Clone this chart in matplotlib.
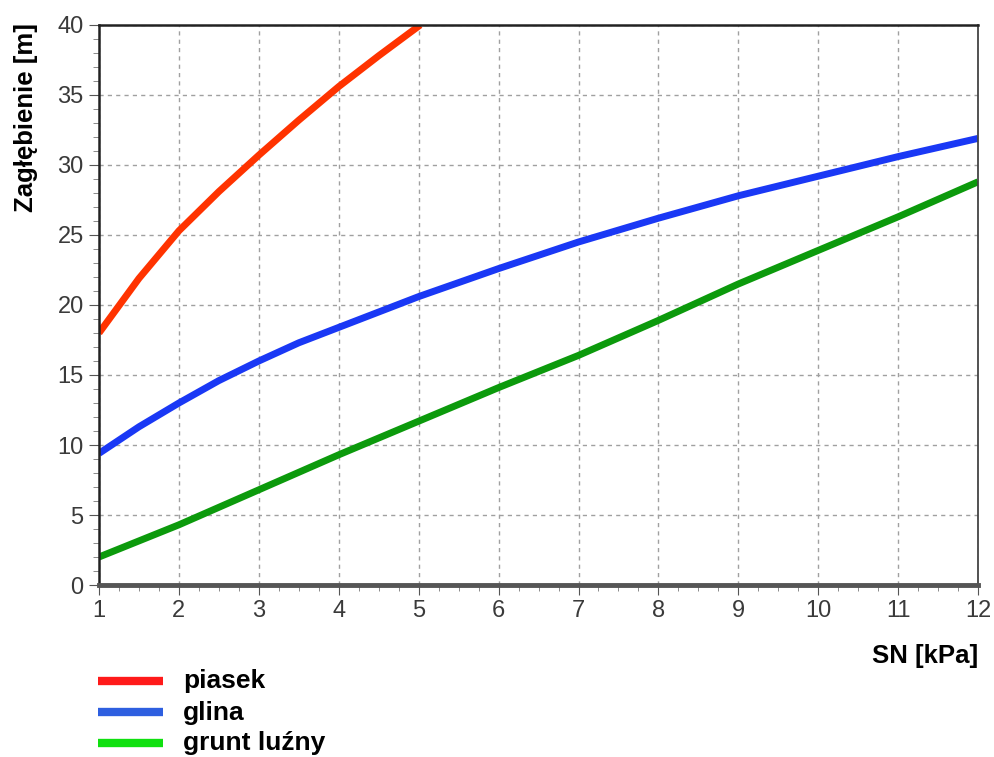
import matplotlib
matplotlib.use("Agg")
import matplotlib.pyplot as plt
from matplotlib.ticker import MultipleLocator
from matplotlib.lines import Line2D

plt.rcParams['font.family'] = ['Liberation Sans', 'DejaVu Sans']

x_piasek = [1, 1.5, 2, 2.5, 3, 3.5, 4, 4.5, 5.02]
y_piasek = [18, 21.9, 25.3, 28.1, 30.7, 33.2, 35.6, 37.8, 40]
x_glina = [1, 1.5, 2, 2.5, 3, 3.5, 4, 5, 6, 7, 8, 9, 10, 11, 12]
y_glina = [9.4, 11.3, 13.0, 14.6, 16.0, 17.3, 18.4, 20.6, 22.6, 24.5, 26.2, 27.8, 29.2, 30.6, 31.9]
x_grunt = [1, 2, 3, 4, 5, 6, 7, 8, 9, 10, 11, 12]
y_grunt = [2.0, 4.3, 6.8, 9.3, 11.7, 14.1, 16.4, 18.9, 21.5, 23.9, 26.3, 28.8]
labels = ["piasek", "glina", "grunt luźny"]
line_colors = ["#ff3300", "#1a38f5", "#0c9a0c"]
legend_colors = ["#ff1a1a", "#2e5fe0", "#10e010"]

fig = plt.figure(figsize=(9.95, 7.57), dpi=100)
ax = fig.add_axes([0.0995, 0.2272, 0.8835, 0.7398])

for xs, ys, c in zip([x_piasek, x_glina, x_grunt], [y_piasek, y_glina, y_grunt], line_colors):
    ax.plot(xs, ys, color=c, lw=5, solid_capstyle="butt", solid_joinstyle="round")

ax.set_xlim(1, 12)
ax.set_ylim(0, 40)
ax.xaxis.set_major_locator(MultipleLocator(1))
ax.xaxis.set_minor_locator(MultipleLocator(0.25))
ax.yaxis.set_major_locator(MultipleLocator(5))
ax.yaxis.set_minor_locator(MultipleLocator(1))
ax.grid(True, which="major", color="#a0a0a0", ls=(0, (3, 3)), lw=1.0)
ax.tick_params(which="major", direction="out", length=7, labelsize=17, labelcolor="#3a3a3a", color="#555555", pad=4)
ax.tick_params(which="minor", direction="out", length=4, color="#777777")
for s in ax.spines.values():
    s.set_color("#222222")
    s.set_linewidth(1.8)
ax.spines["right"].set_color("#444444")
ax.spines["right"].set_linewidth(1.3)
ax.spines["bottom"].set_linewidth(3.5)
ax.spines["bottom"].set_color("#555555")

fig.text(0.983, 0.134, "SN [kPa]", ha="right", va="center", fontsize=18.5, fontweight="bold")
fig.text(0.026, 0.845, "Zagłębienie [m]", ha="center", va="center", rotation=90, fontsize=18.5, fontweight="bold")

row_y = [0.100, 0.058, 0.018]
for lab, c, yy in zip(labels, legend_colors, row_y):
    fig.add_artist(Line2D([0.098, 0.164], [yy + 0.001, yy + 0.001], color=c, lw=6,
                          transform=fig.transFigure, solid_capstyle="butt"))
    fig.text(0.184, yy, lab, ha="left", va="center", fontsize=19, fontweight="bold")

fig.savefig("out.png", dpi=100)
